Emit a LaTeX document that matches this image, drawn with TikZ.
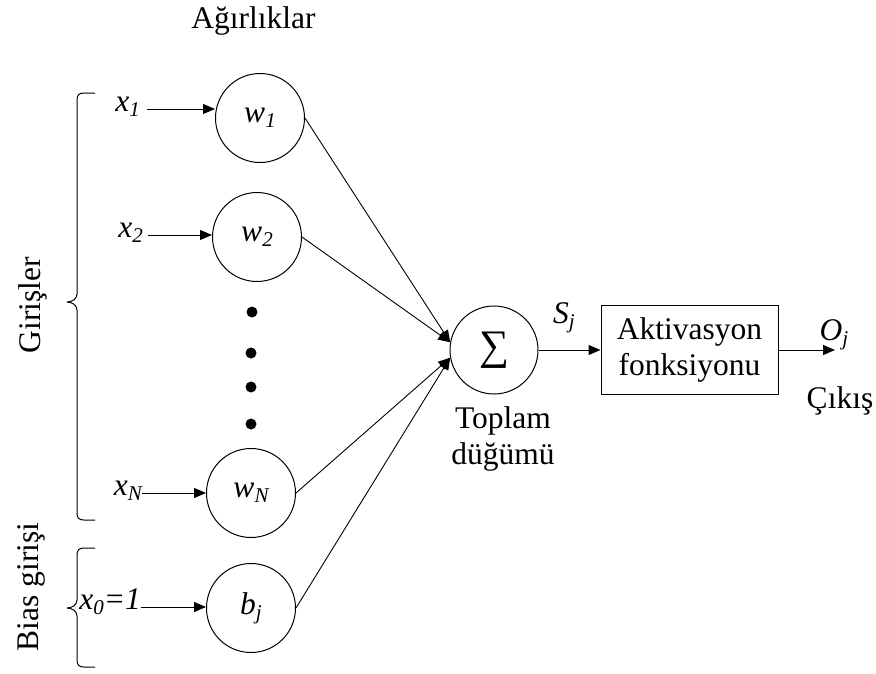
\documentclass[tikz,border=0pt]{standalone}
\usepackage{fontspec}
\setmainfont{Liberation Serif}
\usetikzlibrary{arrows.meta}
% lowered italic index, as in x_1, w_N, S_j
\newcommand\lowidx[1]{\raisebox{-5pt}{\fontsize{21}{21}\selectfont\itshape #1}}
\newcommand\iv[1]{\textit{#1}}
\begin{document}
\begin{tikzpicture}[x=1pt,y=-1pt,
  every node/.style={font=\fontsize{31.5}{36.5}\selectfont, inner sep=0pt},
  neuron/.style={circle, draw, line width=1pt, minimum size=89pt},
  sumnode/.style={circle, draw, line width=1pt, minimum size=88pt},
  actbox/.style={rectangle, draw, line width=1pt, minimum width=177pt, minimum height=89pt, align=center},
  inlabel/.style={anchor=mid east},
  arr/.style={line width=1pt, -{Triangle[length=12pt,width=10pt]}},
  link/.style={line width=0.9pt, -{Triangle[length=12pt,width=10pt]}},
  dotmark/.style={circle, fill, minimum size=11pt},
  brace/.style={line width=1pt, line join=round},
  sidelabel/.style={rotate=90, anchor=base}
]
\useasboundingbox (0,0) rectangle (876,673);

% weights
\node[anchor=base] (title) at (253.5,28) {Ağırlıklar};
\node[neuron] (w1) at (260,118) {\iv{w}\lowidx{1}};
\node[neuron] (w2) at (257,237) {\iv{w}\lowidx{2}};
\node[neuron] (wN) at (251,493) {\iv{w}\lowidx{N}};
\node[neuron] (bj) at (251,608) {\iv{b}\lowidx{j}};

% ellipsis between w2 and wN
\node[dotmark] (d1) at (252,312) {};
\node[dotmark] (d2) at (251,353) {};
\node[dotmark] (d3) at (251,387) {};
\node[dotmark] (d4) at (251,424) {};

% inputs
\node[inlabel, inner xsep=7pt] (x1) at (147,109) {\iv{x}\lowidx{1}};
\node[inlabel, inner xsep=5pt] (x2) at (148,235) {\iv{x}\lowidx{2}};
\node[inlabel] (xN) at (142,493) {\iv{x}\lowidx{N}};
\node[inlabel] (x0) at (141,607) {\iv{x}\lowidx{0}\iv{=1}};

\draw[arr] (x1.mid east) -- (x1.mid east -| w1.west);
\draw[arr] (x2.mid east) -- (x2.mid east -| w2.west);
\draw[arr] (xN.mid east) -- (xN.mid east -| wN.west);
\draw[arr] (x0.mid east) -- (x0.mid east -| bj.west);

% summation node and activation
\node[sumnode] (S) at (494,350) {\fontsize{42}{42}\selectfont ∑};
\node[anchor=north, align=center] (sumlabel) at (503,406) {Toplam\\düğümü};
\node[actbox] (act) at (689.5,350) {Aktivasyon\\fonksiyonu};
\coordinate (out) at (835,350);

\draw[link] (w1.east) -- (S.170);
\draw[link] (w2.east) -- (S.170);
\draw[link] (wN.east) -- (S.190);
\draw[link] (bj.east) -- (S.190);
\draw[arr] (S.east) -- (act.west);
\draw[arr] (act.east) -- (out);

\node[anchor=base] (sj) at (564,323) {\iv{S}\lowidx{j}};
\node[anchor=base] (oj) at (834,340) {\iv{O}\lowidx{j}};
\node[anchor=base] (cikis) at (840,408) {Çıkış};

% braces
\draw[brace] (95,93) -- (84,93) .. controls (79,93) and (77,95) .. (77,100)
  -- (77,294) .. controls (77,299) and (72,302) .. (67,302)
  .. controls (72,302) and (77,305) .. (77,310)
  -- (77,513) .. controls (77,518) and (79,520) .. (84,520) -- (95,520);
\draw[brace] (95,548) -- (84,548) .. controls (79,548) and (77,550) .. (77,555)
  -- (77,600) .. controls (77,605) and (72,608) .. (67,608)
  .. controls (72,608) and (77,611) .. (77,616)
  -- (77,660) .. controls (77,665) and (79,667) .. (84,667) -- (95,667);

\node[sidelabel] (girisler) at (40,305) {Girişler};
\node[sidelabel] (bias) at (38,587) {Bias girişi};
\end{tikzpicture}
\end{document}
